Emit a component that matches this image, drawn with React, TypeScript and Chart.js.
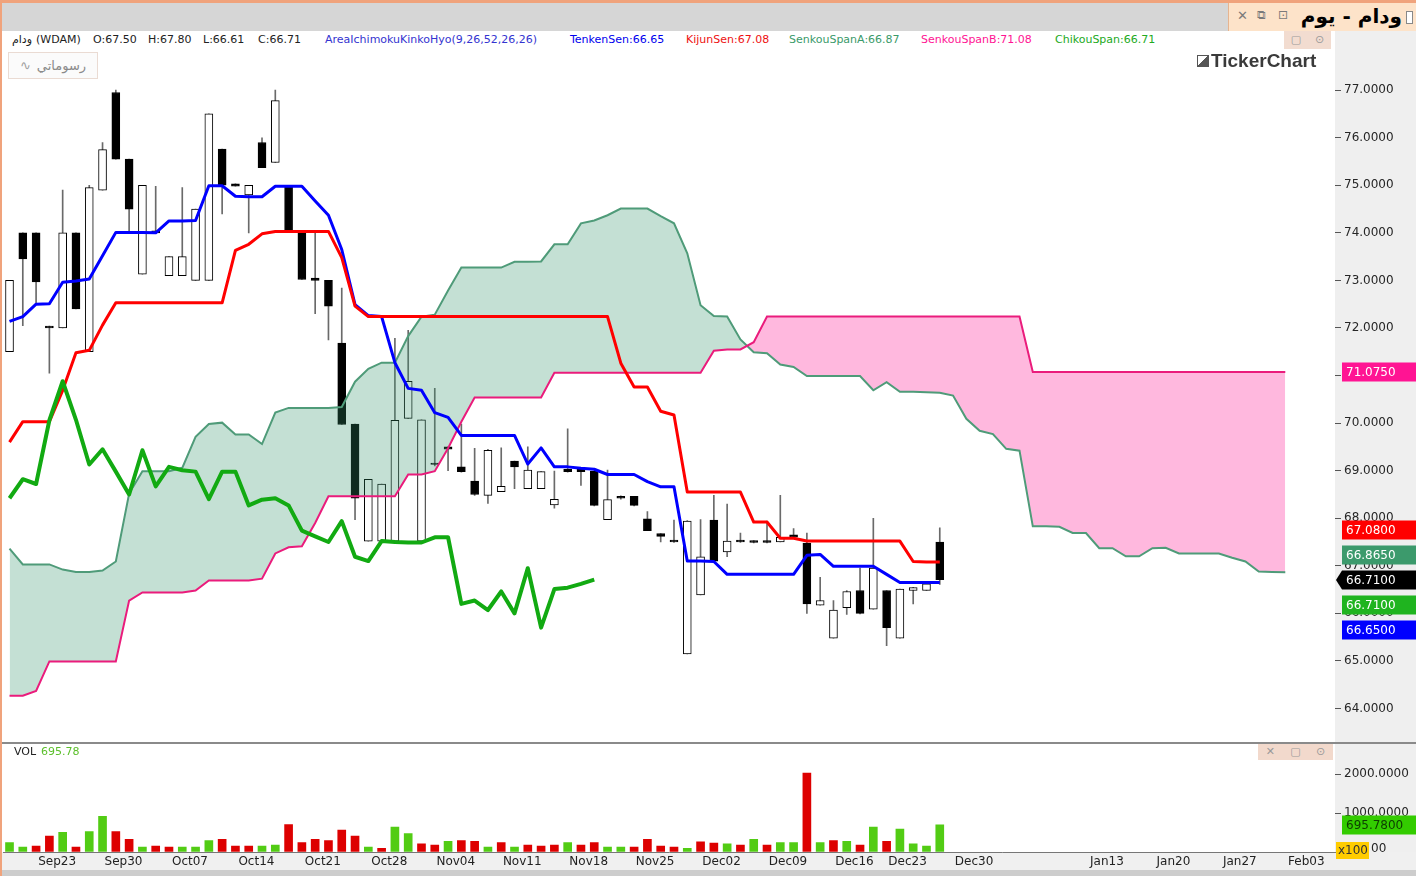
import React, { useEffect, useRef } from "react";
import { Chart, registerables } from "chart.js";

Chart.register(...registerables);

// ---------------- data ----------------
const opens = [71.50, 74.00, 74.00, 72.04, 72.00, 74.00, 71.50, 74.90, 76.95, 75.55,
  73.13, 74.04, 73.10, 73.10, 73.00, 73.00, 75.76, 75.03, 74.80, 75.90,
  75.48, 75.00, 74.00, 73.05, 73.00, 71.68, 69.98, 67.52, 67.52, 67.52,
  70.10, 67.52, 69.16, 69.50, 69.08, 68.78, 68.48, 68.56, 69.20, 68.62,
  68.62, 68.28, 69.03, 69.03, 68.99, 67.97, 68.46, 68.46, 67.99, 67.68,
  67.54, 65.15, 66.39, 67.96, 67.29, 67.54, 67.53, 67.53, 67.50, 67.65,
  67.48, 66.17, 65.48, 66.12, 66.48, 66.09, 66.48, 65.48, 66.48, 66.48,
  67.50];
const highs = [73.00, 74.00, 74.00, 72.04, 74.90, 74.00, 75.00, 75.90, 77.00, 75.55,
  75.00, 74.98, 73.50, 74.95, 74.50, 76.50, 75.76, 75.03, 75.00, 76.00,
  77.00, 75.00, 74.00, 74.00, 73.00, 72.84, 69.98, 68.82, 68.72, 71.78,
  71.95, 70.07, 70.73, 69.50, 69.98, 69.47, 69.45, 69.48, 69.20, 69.50,
  68.98, 68.99, 69.88, 69.03, 68.99, 69.01, 68.47, 68.46, 68.14, 67.68,
  67.96, 67.95, 67.97, 68.48, 68.30, 67.69, 67.53, 67.94, 68.48, 67.78,
  67.69, 66.76, 66.27, 66.48, 66.95, 68.00, 66.48, 66.51, 66.55, 66.63,
  67.80];
const lows = [71.50, 72.05, 72.50, 71.05, 72.00, 72.40, 71.50, 74.90, 75.55, 74.00,
  73.13, 74.00, 73.10, 73.10, 73.00, 73.00, 74.40, 74.98, 74.00, 75.37,
  75.48, 74.03, 73.02, 72.30, 71.75, 69.97, 67.97, 67.52, 67.52, 67.52,
  70.10, 67.52, 69.10, 69.00, 68.97, 68.48, 68.31, 68.56, 68.62, 68.62,
  68.62, 68.21, 68.97, 68.69, 68.26, 67.97, 68.40, 68.26, 67.74, 67.50,
  67.49, 65.15, 66.39, 67.10, 67.19, 67.49, 67.48, 67.48, 67.50, 67.58,
  66.00, 66.17, 65.48, 65.98, 65.99, 66.09, 65.32, 65.48, 66.20, 66.48,
  66.61];
const closes = [73.00, 73.45, 72.97, 72.00, 74.00, 72.40, 74.95, 75.75, 75.55, 74.50,
  75.00, 74.00, 73.50, 73.50, 74.50, 76.50, 75.00, 74.98, 75.00, 75.37,
  76.78, 74.03, 73.02, 73.00, 72.46, 69.97, 68.42, 68.82, 68.72, 70.06,
  70.88, 70.07, 69.13, 69.45, 68.98, 68.50, 69.43, 68.67, 69.08, 69.01,
  68.98, 68.40, 68.98, 68.98, 68.27, 68.39, 68.42, 68.27, 67.74, 67.62,
  67.50, 67.94, 67.19, 67.10, 67.52, 67.50, 67.49, 67.49, 67.60, 67.60,
  66.20, 66.27, 66.07, 66.46, 66.00, 66.95, 65.70, 66.51, 66.54, 66.62,
  66.71];

const volumes = [240, 124, 155, 410, 504, 124, 527, 915, 527, 326,
  124, 155, 124, 124, 124, 295, 326, 155, 155, 155,
  178, 705, 240, 326, 295, 566, 410, 124, 93, 643,
  473, 209, 178, 271, 295, 271, 124, 240, 124, 178,
  155, 178, 240, 178, 240, 124, 124, 124, 326, 155,
  124, 93, 264, 230, 209, 178, 326, 178, 240, 240,
  2030, 240, 295, 271, 178, 643, 271, 588, 209, 155,
  695.78];
const volumeUp = [1, 1, 0, 0, 1, 0, 1, 1, 0, 0,
  1, 0, 0, 1, 1, 1, 0, 0, 0, 1,
  1, 0, 0, 0, 0, 0, 0, 1, 0, 1,
  1, 0, 0, 1, 0, 0, 1, 0, 1, 0,
  0, 0, 1, 0, 0, 1, 1, 0, 0, 0,
  0, 1, 0, 0, 1, 0, 1, 0, 1, 1,
  0, 1, 0, 1, 0, 1, 0, 1, 1, 1,
  1];

const tenkanSen = [72.14, 72.24, 72.50, 72.51, 72.96, 72.99, 73.03, 73.52, 74.01, 74.01,
  74.01, 74.00, 74.25, 74.25, 74.26, 74.99, 74.99, 74.77, 74.76, 74.76,
  74.98, 74.98, 74.98, 74.67, 74.37, 73.65, 72.49, 72.26, 72.24, 71.27,
  70.73, 70.69, 70.22, 70.12, 69.74, 69.74, 69.74, 69.74, 69.74, 69.14,
  69.48, 69.08, 69.08, 69.05, 69.03, 68.92, 68.92, 68.92, 68.77, 68.66,
  68.66, 67.10, 67.10, 67.09, 66.82, 66.82, 66.82, 66.82, 66.82, 66.82,
  67.22, 67.24, 66.99, 66.99, 66.99, 66.99, 66.82, 66.65, 66.65, 66.65,
  66.65];
const kijunSen = [69.60, 70.03, 70.03, 70.03, 70.69, 71.48, 71.53, 72.06, 72.53, 72.53,
  72.53, 72.53, 72.53, 72.53, 72.53, 72.53, 72.53, 73.63, 73.76, 73.98,
  74.03, 74.03, 74.03, 74.03, 74.03, 73.48, 72.46, 72.24, 72.24, 72.24,
  72.24, 72.24, 72.24, 72.24, 72.24, 72.24, 72.24, 72.24, 72.24, 72.24,
  72.24, 72.24, 72.24, 72.24, 72.24, 72.24, 71.26, 70.76, 70.76, 70.25,
  70.17, 68.55, 68.55, 68.55, 68.55, 68.55, 67.92, 67.92, 67.58, 67.58,
  67.52, 67.52, 67.52, 67.52, 67.52, 67.52, 67.52, 67.52, 67.09, 67.08,
  67.08];
const senkouSpanA = [67.36, 67.03, 67.03, 67.03, 66.92, 66.87, 66.87, 66.90, 67.09, 68.52,
  68.99, 68.99, 68.99, 69.06, 69.71, 69.98, 70.01, 69.76, 69.76, 69.56,
  70.22, 70.32, 70.32, 70.32, 70.32, 70.34,
  70.87, 71.14, 71.27, 71.27, 71.83, 72.24, 72.28, 72.79, 73.27, 73.27,
  73.27, 73.27, 73.39, 73.39, 73.40, 73.76, 73.76, 74.20, 74.26, 74.37,
  74.51, 74.51, 74.51, 74.35, 74.20, 73.57, 72.48, 72.25, 72.24, 71.76,
  71.49, 71.47, 71.23, 71.18, 70.99, 70.99, 70.99, 70.99, 70.99, 70.69,
  70.86, 70.66, 70.66, 70.65, 70.64, 70.58, 70.09, 69.84, 69.77, 69.46,
  69.42, 67.83, 67.83, 67.82, 67.69, 67.69, 67.37, 67.37, 67.20, 67.20,
  67.37, 67.38, 67.26, 67.26, 67.26, 67.26, 67.17, 67.09, 66.88, 66.87,
  66.865];
const senkouSpanB = [64.27, 64.27, 64.37, 64.99, 64.99, 64.99, 64.99, 64.99, 64.99, 66.27,
  66.44, 66.44, 66.44, 66.44, 66.48, 66.69, 66.69, 66.69, 66.69, 66.73,
  67.26, 67.39, 67.41, 67.90, 68.46, 68.46, 68.46, 68.46, 68.46, 68.46,
  68.92, 68.92, 68.99, 69.47, 70.03, 70.54, 70.54, 70.54, 70.54, 70.54,
  70.54, 71.06, 71.06, 71.06, 71.06, 71.06, 71.06, 71.06, 71.06, 71.06,
  71.06, 71.06, 71.06, 71.52, 71.55, 71.55, 71.70, 72.24, 72.24, 72.24,
  72.24, 72.24, 72.24, 72.24, 72.24, 72.24, 72.24, 72.24, 72.24, 72.24,
  72.24, 72.24, 72.24, 72.24, 72.24, 72.24, 72.24, 71.075, 71.075, 71.075,
  71.075, 71.075, 71.075, 71.075, 71.075, 71.075, 71.075, 71.075, 71.075, 71.075,
  71.075, 71.075, 71.075, 71.075, 71.075, 71.075, 71.075];
const chikouShift = 26;

const xTickBars = [2, 7, 12, 17, 22, 27, 32, 37, 42, 47, 52, 57, 62, 66, 71, 76, 81, 86, 91, 96];
const xTickLabels = ["Sep23", "Sep30", "Oct07", "Oct14", "Oct21", "Oct28", "Nov04", "Nov11", "Nov18", "Nov25",
  "Dec02", "Dec09", "Dec16", "Dec23", "Dec30", "", "Jan13", "Jan20", "Jan27", "Feb03"];
const priceTicks = [64, 65, 66, 67, 68, 69, 70, 71, 72, 73, 74, 75, 76, 77];
const volumeTicks = [0, 1000, 2000];

// ---------------- helpers ----------------
const X_MIN = -0.49;
const X_MAX = 99.74;
const FONT = '"DejaVu Sans", sans-serif';

type SideItem = { value: number; bg: string; fg: string; arrow?: boolean; decimals?: number };

function drawSideBoxes(chart: any, items: SideItem[]) {
  const { ctx, chartArea, scales } = chart;
  const yScale = scales.y;
  const H = 19, STEP = 25;
  const raw = items.map((it) => yScale.getPixelForValue(it.value));
  const order = items.map((_, i) => i).sort((a, b) => raw[a] - raw[b]);
  const clusters: number[][] = [];
  order.forEach((i) => {
    const c = clusters[clusters.length - 1];
    if (c && raw[i] - raw[c[c.length - 1]] < STEP) c.push(i);
    else clusters.push([i]);
  });
  const pos: number[] = new Array(items.length).fill(0);
  clusters.forEach((c) => {
    const n = c.length;
    const center = n % 2 === 1 ? raw[c[(n - 1) / 2]] : (raw[c[n / 2 - 1]] + raw[c[n / 2]]) / 2;
    c.forEach((idx, k) => { pos[idx] = center + (k - (n - 1) / 2) * STEP; });
  });
  const left = chartArea.right + 7;
  const right = chart.width;
  ctx.save();
  items.forEach((it, i) => {
    const y = Math.round(pos[i]);
    ctx.fillStyle = it.bg;
    ctx.beginPath();
    if (it.arrow) {
      ctx.moveTo(chartArea.right + 1, y);
      ctx.lineTo(left, y - H / 2);
    } else {
      ctx.moveTo(left, y - H / 2);
    }
    ctx.lineTo(right, y - H / 2);
    ctx.lineTo(right, y + H / 2);
    ctx.lineTo(left, y + H / 2);
    ctx.closePath();
    ctx.fill();
    ctx.fillStyle = it.fg;
    ctx.font = `12px ${FONT}`;
    ctx.textBaseline = "middle";
    ctx.textAlign = "left";
    ctx.fillText(it.value.toFixed(it.decimals ?? 4), left + 4, y + 1);
  });
  ctx.restore();
}

const last = (a: number[]) => a[a.length - 1];

export default function App() {
  const mainRef = useRef<HTMLCanvasElement | null>(null);
  const volRef = useRef<HTMLCanvasElement | null>(null);

  useEffect(() => {
    document.body.style.margin = "0";
    const pts = (arr: number[]) => arr.map((v, i) => ({ x: i, y: v }));

    const mainItems: SideItem[] = [
      { value: last(senkouSpanB), bg: "#ff1493", fg: "#ffffff" },
      { value: last(kijunSen), bg: "#ff0000", fg: "#ffffff" },
      { value: last(senkouSpanA), bg: "#3c9a6c", fg: "#ffffff" },
      { value: last(closes), bg: "#000000", fg: "#ffffff", arrow: true },
      { value: last(closes), bg: "#1fb41f", fg: "#ffffff" },
      { value: last(tenkanSen), bg: "#0000ff", fg: "#ffffff" },
    ];

    const mainChart = new Chart(mainRef.current as HTMLCanvasElement, {
      type: "line",
      data: {
        datasets: [
          {
            type: "bar",
            label: "wicks",
            data: highs.map((h, i) => ({ x: i, y: [lows[i], h] })),
            backgroundColor: "#6a6a6a",
            barThickness: 1,
            grouped: false,
            order: 10,
          } as any,
          {
            type: "bar",
            label: "bodies",
            data: opens.map((o, i) => ({ x: i, y: [o, closes[i]] })),
            backgroundColor: closes.map((c, i) => (c > opens[i] ? "#ffffff" : "#000000")),
            borderColor: "#000000",
            borderWidth: 1,
            borderSkipped: false,
            barThickness: 8,
            grouped: false,
            order: 9,
          } as any,
          {
            label: "SenkouSpanA",
            data: pts(senkouSpanA),
            borderColor: "#4f9b79",
            borderWidth: 2,
            pointRadius: 0,
            tension: 0,
            fill: { target: 3, above: "rgba(52,147,108,0.29)", below: "rgba(255,20,147,0.30)" },
            order: 6,
          } as any,
          {
            label: "SenkouSpanB",
            data: pts(senkouSpanB),
            borderColor: "#ea1c7c",
            borderWidth: 2,
            pointRadius: 0,
            tension: 0,
            fill: false,
            order: 5,
          },
          {
            label: "TenkenSen",
            data: pts(tenkanSen),
            borderColor: "#0000ff",
            borderWidth: 3,
            pointRadius: 0,
            fill: false,
            borderJoinStyle: "round",
            order: 4,
          } as any,
          {
            label: "KijunSen",
            data: pts(kijunSen),
            borderColor: "#ff0000",
            borderWidth: 3,
            pointRadius: 0,
            fill: false,
            borderJoinStyle: "round",
            order: 3,
          } as any,
          {
            label: "ChikouSpan",
            data: closes.slice(chikouShift).map((v, i) => ({ x: i, y: v })),
            borderColor: "#12aa12",
            borderWidth: 4,
            pointRadius: 0,
            fill: false,
            borderJoinStyle: "round",
            order: 1,
          } as any,
        ],
      },
      options: {
        responsive: false,
        animation: false,
        devicePixelRatio: 1,
        events: [],
        layout: { padding: 0, autoPadding: false },
        plugins: { legend: { display: false }, tooltip: { enabled: false } },
        scales: {
          x: { type: "linear", min: X_MIN, max: X_MAX, display: false, offset: false },
          y: {
            type: "linear",
            position: "right",
            min: 63.51,
            max: 77.63,
            afterFit: (s: any) => { s.width = 81; },
            afterBuildTicks: (s: any) => { s.ticks = priceTicks.map((v) => ({ value: v })); },
            ticks: {
              autoSkip: false,
              callback: (v: any) => Number(v).toFixed(4),
              color: "#262626",
              font: { family: FONT, size: 12 },
              padding: 3,
            },
            grid: { drawOnChartArea: false, tickLength: 6, color: "#555555" },
            border: { display: false },
          },
        },
      } as any,
      plugins: [{ id: "sideBoxesMain", afterDraw: (c: any) => drawSideBoxes(c, mainItems) }],
    });

    const volItems: SideItem[] = [{ value: last(volumes), bg: "#33cc00", fg: "#0d3d00" }];

    const volChart = new Chart(volRef.current as HTMLCanvasElement, {
      type: "line",
      data: {
        datasets: [
          {
            type: "bar",
            label: "VOL",
            data: volumes.map((v, i) => ({ x: i, y: v })),
            backgroundColor: volumeUp.map((u) => (u ? "#52cc14" : "#dd0000")),
            barThickness: 8,
            grouped: false,
          } as any,
        ],
      },
      options: {
        responsive: false,
        animation: false,
        devicePixelRatio: 1,
        events: [],
        layout: { padding: 0, autoPadding: false },
        plugins: { legend: { display: false }, tooltip: { enabled: false } },
        scales: {
          x: {
            type: "linear",
            min: X_MIN,
            max: X_MAX,
            offset: false,
            afterFit: (s: any) => { s.height = 18; },
            afterBuildTicks: (s: any) => { s.ticks = xTickBars.map((v) => ({ value: v })); },
            ticks: {
              autoSkip: false,
              maxRotation: 0,
              callback: (_v: any, i: number) => xTickLabels[i],
              labelOffset: 21,
              padding: 3,
              color: "#222222",
              font: { family: FONT, size: 12 },
            },
            grid: { drawOnChartArea: false, drawTicks: false, offset: false },
            border: { display: true, color: "#777777" },
          },
          y: {
            type: "linear",
            position: "right",
            min: 0,
            max: 2512,
            afterFit: (s: any) => { s.width = 81; },
            afterBuildTicks: (s: any) => { s.ticks = volumeTicks.map((v) => ({ value: v })); },
            ticks: {
              autoSkip: false,
              callback: (v: any) => Number(v).toFixed(4),
              color: "#262626",
              font: { family: FONT, size: 12 },
              padding: 3,
            },
            grid: { drawOnChartArea: false, tickLength: 6, color: "#555555" },
            border: { display: false },
          },
        },
      } as any,
      plugins: [
        {
          id: "sideBoxesVol",
          afterDraw: (c: any) => {
            drawSideBoxes(c, volItems);
            const { ctx, chartArea } = c;
            ctx.save();
            ctx.fillStyle = "#efefef";
            ctx.fillRect(chartArea.right + 1, chartArea.bottom - 10, 52, 18);
            ctx.fillStyle = "#ffcc00";
            ctx.fillRect(chartArea.right + 1, chartArea.bottom - 10, 33, 17);
            ctx.fillStyle = "#333333";
            ctx.font = `12px ${FONT}`;
            ctx.textBaseline = "middle";
            ctx.textAlign = "left";
            ctx.fillText("x100", chartArea.right + 3, chartArea.bottom - 1);
            ctx.fillStyle = "#262626";
            ctx.fillText("00", chartArea.right + 36, chartArea.bottom - 3);
            ctx.restore();
          },
        },
      ],
    });

    return () => {
      mainChart.destroy();
      volChart.destroy();
    };
  }, []);

  const hdr = (left: number, text: string, color: string) => (
    <span style={{ position: "absolute", left, top: 33, fontSize: 11, lineHeight: "14px", color, whiteSpace: "pre" }}>{text}</span>
  );

  const ctrlIcon: React.CSSProperties = { color: "#9a9a9a", fontSize: 11, lineHeight: "16px" };

  return (
    <div style={{ position: "relative", width: 1416, height: 876, background: "#ffffff", overflow: "hidden", fontFamily: FONT }}>
      {/* title bar */}
      <div style={{ position: "absolute", left: 0, top: 0, width: 1416, height: 31, background: "#d6d6d6", borderTop: "3px solid #f0a37c", boxSizing: "border-box" }} />
      <div style={{ position: "absolute", left: 1228, top: 3, width: 188, height: 28, background: "#fde3c9", borderLeft: "1px solid #e6b48f", boxSizing: "border-box" }}>
        <span style={{ position: "absolute", left: 8, top: 5, fontSize: 13, color: "#7a7a7a" }}>✕</span>
        <span style={{ position: "absolute", left: 28, top: 5, fontSize: 12, color: "#7a7a7a" }}>⧉</span>
        <span style={{ position: "absolute", left: 49, top: 5, fontSize: 12, color: "#7a7a7a" }}>⊡</span>
        <span style={{ position: "absolute", right: 14, top: 1, fontSize: 20, fontWeight: "bold", color: "#000", direction: "rtl", whiteSpace: "nowrap" }}>ودام - يوم</span>
        <span style={{ position: "absolute", right: 3, top: 8, width: 7, height: 13, border: "1px solid #888", background: "#fff", boxSizing: "border-box" }} />
      </div>

      {/* right axis column */}
      <div style={{ position: "absolute", left: 1335, top: 31, width: 81, height: 821, background: "#efefef" }} />
      {/* x label strip */}
      <div style={{ position: "absolute", left: 0, top: 852, width: 1416, height: 18, background: "#f0f0f0" }} />
      {/* scrollbar */}
      <div style={{ position: "absolute", left: 0, top: 870, width: 1416, height: 6, background: "#cdcdcd" }} />
      {/* panel separator */}
      <div style={{ position: "absolute", left: 0, top: 742, width: 1416, height: 2, background: "#8a8a8a" }} />

      {/* canvases */}
      <canvas ref={mainRef} width={1413} height={692} style={{ position: "absolute", left: 3, top: 50, width: 1413, height: 692 }} />
      <canvas ref={volRef} width={1413} height={126} style={{ position: "absolute", left: 3, top: 744, width: 1413, height: 126 }} />

      {/* header row */}
      {hdr(12, "ودام", "#222")}
      {hdr(36, "(WDAM)", "#222")}
      {hdr(93, "O:67.50", "#222")}
      {hdr(148, "H:67.80", "#222")}
      {hdr(203, "L:66.61", "#222")}
      {hdr(258, "C:66.71", "#222")}
      {hdr(325, "AreaIchimokuKinkoHyo(9,26,52,26,26)", "#3434d0")}
      {hdr(570, "TenkenSen:66.65", "#0000ee")}
      {hdr(686, "KijunSen:67.08", "#ee1111")}
      {hdr(789, "SenkouSpanA:66.87", "#3a9a6a")}
      {hdr(921, "SenkouSpanB:71.08", "#ff1493")}
      {hdr(1055, "ChikouSpan:66.71", "#22aa22")}

      {/* main panel controls */}
      <div style={{ position: "absolute", left: 1284, top: 31, width: 47, height: 18, background: "#f2dcd0", display: "flex", justifyContent: "space-around", alignItems: "center" }}>
        <span style={ctrlIcon}>▢</span>
        <span style={ctrlIcon}>⊙</span>
      </div>

      {/* my drawings button */}
      <div style={{ position: "absolute", left: 8, top: 52, width: 90, height: 27, border: "1px solid #eadbd3", background: "#fbfbfb", boxSizing: "border-box", display: "flex", alignItems: "center", justifyContent: "center", gap: 6 }}>
        <span style={{ color: "#a0a0a0", fontSize: 13 }}>∿</span>
        <span style={{ color: "#8a8a8a", fontSize: 13, direction: "rtl" }}>رسوماتي</span>
      </div>

      {/* logo */}
      <div style={{ position: "absolute", left: 1197, top: 51, display: "flex", alignItems: "center", gap: 2 }}>
        <span style={{ display: "inline-block", width: 12, height: 12, border: "1px solid #555", background: "linear-gradient(135deg, #ffffff 50%, #555 50%)", boxSizing: "border-box" }} />
        <span style={{ fontFamily: '"Liberation Sans", Arial, sans-serif', fontWeight: "bold", fontSize: 19, color: "#3a3a3a", lineHeight: "20px" }}>TickerChart</span>
      </div>

      {/* volume panel header */}
      <span style={{ position: "absolute", left: 14, top: 745, fontSize: 11, lineHeight: "14px", color: "#222" }}>VOL</span>
      <span style={{ position: "absolute", left: 41, top: 745, fontSize: 11, lineHeight: "14px", color: "#5bbf2a" }}>695.78</span>
      <div style={{ position: "absolute", left: 1258, top: 744, width: 75, height: 16, background: "#f2d9cc", display: "flex", justifyContent: "space-around", alignItems: "center" }}>
        <span style={ctrlIcon}>✕</span>
        <span style={ctrlIcon}>▢</span>
        <span style={ctrlIcon}>⊙</span>
      </div>

      {/* left border */}
      <div style={{ position: "absolute", left: 0, top: 0, width: 2, height: 876, background: "#f0a37c" }} />
    </div>
  );
}
